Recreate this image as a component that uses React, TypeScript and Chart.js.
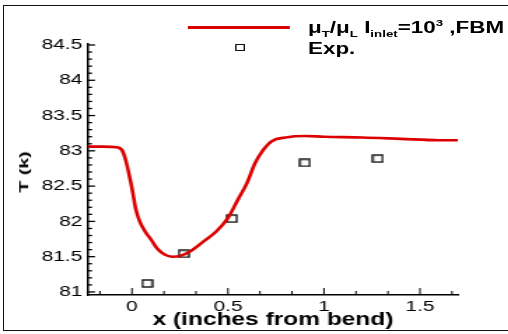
import React, { useEffect, useRef } from "react";
import { Chart, registerables } from "chart.js";

Chart.register(...registerables);

// ---- data ----
const curveX = [-0.23, -0.15, -0.08, -0.05, -0.03, -0.01, 0.0, 0.02, 0.04, 0.07, 0.1, 0.13, 0.17, 0.21, 0.25, 0.3, 0.37, 0.44, 0.5, 0.55, 0.6, 0.64, 0.68, 0.73, 0.8, 0.9, 1.0, 1.2, 1.4, 1.6, 1.7];
const curveY = [83.06, 83.06, 83.05, 83.0, 82.84, 82.6, 82.47, 82.17, 82.0, 81.85, 81.74, 81.62, 81.53, 81.5, 81.51, 81.57, 81.71, 81.86, 82.05, 82.3, 82.55, 82.82, 83.0, 83.14, 83.19, 83.21, 83.2, 83.19, 83.17, 83.15, 83.15];
const expX = [0.08, 0.27, 0.52, 0.9, 1.28];
const expY = [81.12, 81.54, 82.04, 82.83, 82.89];
const xTicks = [0, 0.5, 1, 1.5];
const yTicks = [81, 81.5, 82, 82.5, 83, 83.5, 84, 84.5];
const xRange = [-0.229, 1.698];
const yRange = [80.957, 84.514];
const xMinorStep = 1 / 6;
const yMinorStep = 0.1;

const SX = 1.4; // horizontal stretch of the reference
const W = 363;
const H = 334;
const FONT = "'Liberation Sans', Arial, sans-serif";

const squareStyle = (() => {
  const c = document.createElement("canvas");
  c.width = 9;
  c.height = 9;
  const g = c.getContext("2d")!;
  g.strokeStyle = "#111";
  g.lineWidth = 1.4;
  g.strokeRect(1, 1, 7, 7);
  return c;
})();

const inwardTicks = {
  id: "inwardTicks",
  afterDraw(chart: any) {
    const { ctx, chartArea } = chart;
    const xs = chart.scales.x;
    const ys = chart.scales.y;
    ctx.save();
    ctx.strokeStyle = "#000";
    ctx.lineWidth = 1.3;
    const y0 = yTicks[0];
    const nY = Math.round((yTicks[yTicks.length - 1] - y0) / yMinorStep);
    for (let i = 0; i <= nY; i++) {
      const v = y0 + i * yMinorStep;
      const py = ys.getPixelForValue(v);
      const major = i % 5 === 0;
      ctx.beginPath();
      ctx.moveTo(chartArea.left, py);
      ctx.lineTo(chartArea.left + (major ? 5 : 2.9), py);
      ctx.stroke();
    }
    ctx.lineWidth = 1;
    for (let i = -3; i <= 12; i++) {
      const v = i * xMinorStep;
      if (v < xs.min || v > xs.max) continue;
      const px = xs.getPixelForValue(v);
      const major = i % 3 === 0;
      ctx.beginPath();
      ctx.moveTo(px, chartArea.bottom);
      ctx.lineTo(px, chartArea.bottom - (major ? 7 : 4));
      ctx.stroke();
    }
    ctx.restore();
  },
};

export default function App() {
  const ref = useRef<HTMLCanvasElement>(null);
  useEffect(() => {
    const chart = new Chart(ref.current!, {
      type: "scatter",
      data: {
        datasets: [
          {
            data: curveX.map((x, i) => ({ x, y: curveY[i] })),
            showLine: true,
            borderColor: "#dc0000",
            borderWidth: 2.6,
            pointRadius: 0,
            cubicInterpolationMode: "monotone",
          } as any,
          {
            data: expX.map((x, i) => ({ x, y: expY[i] })),
            showLine: false,
            pointStyle: squareStyle,
            pointRadius: 5,
          } as any,
        ],
      },
      options: {
        animation: false,
        responsive: false,
        devicePixelRatio: 1,
        layout: { padding: { left: 0, right: W - 458 / SX, top: 44, bottom: 0 } },
        plugins: { legend: { display: false }, tooltip: { enabled: false } },
        scales: {
          x: {
            type: "linear",
            min: xRange[0],
            max: xRange[1],
            grid: { display: false, drawTicks: false },
            border: { display: true, color: "#000", width: 1.5 },
            afterBuildTicks: (s: any) => {
              s.ticks = xTicks.map((v) => ({ value: v }));
            },
            afterFit: (s: any) => {
              s.height = H - 295;
            },
            ticks: {
              autoSkip: false,
              maxRotation: 0,
              padding: 3,
              color: "#000",
              font: { family: FONT, size: 15 },
              callback: (v: any) => String(v),
            },
            title: {
              display: true,
              text: "x (inches from bend)",
              color: "#000",
              font: { family: FONT, size: 17.5, weight: "bold" },
              padding: { top: 0, bottom: 3.5 },
            },
          },
          y: {
            type: "linear",
            min: yRange[0],
            max: yRange[1],
            grid: { display: false, drawTicks: false },
            border: { display: true, color: "#000", width: 1.5 },
            afterBuildTicks: (s: any) => {
              s.ticks = yTicks.map((v) => ({ value: v }));
            },
            afterFit: (s: any) => {
              s.width = 88 / SX;
            },
            ticks: {
              autoSkip: false,
              padding: 4,
              color: "#000",
              font: { family: FONT, size: 15 },
              callback: (v: any) => String(v),
            },
          },
        },
      },
      plugins: [inwardTicks],
    } as any);
    return () => chart.destroy();
  }, []);

  const sub: React.CSSProperties = { fontSize: 9.5, position: "relative", top: 4 };
  const sup: React.CSSProperties = { fontSize: 9.5, position: "relative", top: -7 };

  return (
    <div style={{ position: "fixed", left: 0, top: 0, width: 508, height: 334, overflow: "hidden", background: "#fff" }}>
      <div style={{ position: "absolute", left: 3, top: 5, width: 520, height: 326, borderLeft: "1.5px solid #111", borderTop: "1.5px solid #111", borderBottom: "1.5px solid #111", boxSizing: "border-box" }} />
      <div style={{ position: "absolute", left: 0, top: 0, width: W, height: H, transform: `scaleX(${SX})`, transformOrigin: "0 0" }}>
        <canvas ref={ref} width={W} height={H} style={{ position: "absolute", left: 0, top: 0 }} />
        <div style={{ position: "absolute", left: 188 / SX, top: 25.5, width: (290 - 188) / SX, height: 3, background: "#dc0000" }} />
        <div style={{ position: "absolute", left: 240 / SX - 3.5, top: 44, width: 7, height: 7, border: "1.3px solid #111", boxSizing: "border-box" }} />
        <div style={{ position: "absolute", left: 308 / SX, top: 19.5, font: `bold 16px ${FONT}`, lineHeight: 1, whiteSpace: "nowrap", color: "#000" }}>
          μ<span style={sub}>T</span>/μ<span style={sub}>L</span> I<span style={sub}>inlet</span>=10<span style={sup}>3</span> ,FBM
        </div>
        <div style={{ position: "absolute", left: 308 / SX, top: 41, font: `bold 16px ${FONT}`, lineHeight: 1, whiteSpace: "nowrap", color: "#000" }}>
          Exp.
        </div>
      </div>
      <div style={{ position: "absolute", left: 24, top: 172, transform: "translate(-50%,-50%) rotate(-90deg) scaleX(1.45)", font: `bold 13.5px ${FONT}`, lineHeight: 1, whiteSpace: "nowrap", color: "#000" }}>
        T (k)
      </div>
    </div>
  );
}
